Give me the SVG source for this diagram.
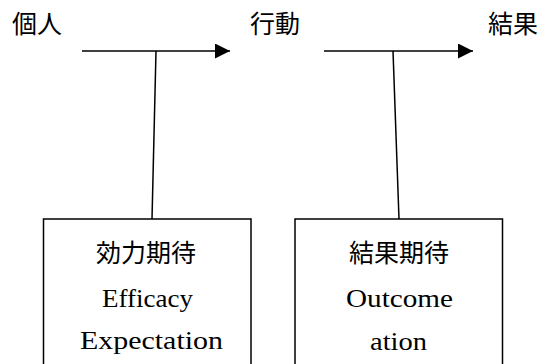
<svg xmlns="http://www.w3.org/2000/svg" width="552" height="364" viewBox="0 0 552 364">
<style>
.cjk{font-family:"Noto Sans CJK JP","Noto Sans CJK SC",sans-serif;font-size:25px;fill:#000}
.lat{font-family:"Liberation Serif","DejaVu Serif",serif;font-size:26px;fill:#000}
.ln{stroke:#000;stroke-width:1.5;fill:none}
.box{stroke:#000;stroke-width:1.5;fill:#fff}
</style>
<defs>
<marker id="ah" markerUnits="userSpaceOnUse" markerWidth="16" markerHeight="16" refX="15" refY="7.5" orient="auto">
<path d="M0,0 L15,7.5 L0,15 Z" fill="#000"/>
</marker>
</defs>
<rect width="552" height="364" fill="#fff"/>
<g id="label-kojin"><text class="cjk" x="12" y="33">個人</text></g>
<g id="label-kodo"><text class="cjk" x="250" y="33">行動</text></g>
<g id="label-kekka"><text class="cjk" x="488" y="33">結果</text></g>
<g id="connectors">
<line class="ln" x1="82" y1="51" x2="230" y2="51" marker-end="url(#ah)"/>
<line class="ln" x1="324" y1="51" x2="473" y2="51" marker-end="url(#ah)"/>
<line class="ln" x1="156" y1="51" x2="152" y2="219"/>
<line class="ln" x1="393" y1="51" x2="399" y2="219"/>
</g>
<g id="node-efficacy">
<rect class="box" x="43.5" y="219" width="207.5" height="160"/>
<text class="cjk" x="146" y="262" text-anchor="middle">効力期待</text>
<text class="lat" x="102" y="307" textLength="91" lengthAdjust="spacingAndGlyphs">Efficacy</text>
<text class="lat" x="80" y="349" textLength="143" lengthAdjust="spacingAndGlyphs">Expectation</text>
</g>
<g id="node-outcome">
<rect class="box" x="295" y="219" width="207.5" height="160"/>
<text class="cjk" x="399" y="262" text-anchor="middle">結果期待</text>
<text class="lat" x="346" y="307" textLength="107" lengthAdjust="spacingAndGlyphs">Outcome</text>
<text class="lat" x="370" y="350" textLength="57" lengthAdjust="spacingAndGlyphs">ation</text>
</g>
</svg>
